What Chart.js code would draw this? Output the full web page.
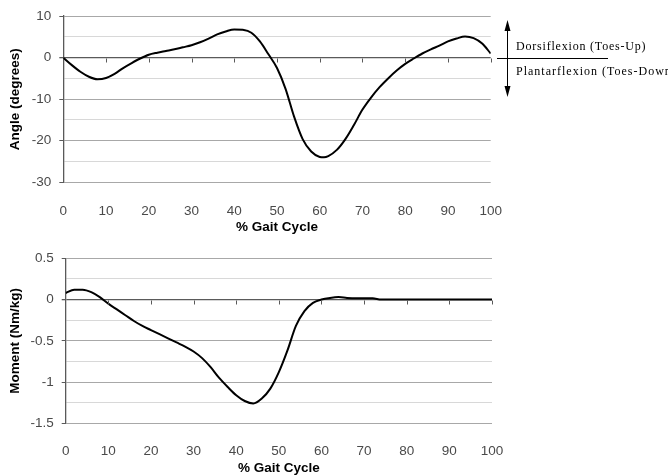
<!DOCTYPE html>
<html>
<head>
<meta charset="utf-8">
<script src="https://cdn.jsdelivr.net/npm/chart.js@4/dist/chart.umd.min.js"></script>
<style>
  html, body { margin: 0; padding: 0; background: #fff; }
  #wrap { position: relative; width: 668px; height: 476px; overflow: hidden; }
  canvas { position: absolute; left: 0; }
  #angle { top: 0; }
  #moment { top: 240px; }
</style>
</head>
<body>
<div id="wrap">
  <canvas id="angle" width="668" height="240"></canvas>
  <canvas id="moment" width="668" height="236"></canvas>
</div>
<script>
// Ankle sagittal-plane kinematics and kinetics over one gait cycle
const gaitPercent = [0, 2, 4, 6, 8, 10, 12, 14, 16, 18, 20, 22, 24, 26, 28, 30, 32, 34, 36, 38, 40,
  42, 44, 46, 48, 50, 52, 54, 56, 58, 60, 61, 62, 64, 66, 68, 70, 72, 74, 76, 78, 80, 82, 84, 86,
  88, 90, 92, 94, 96, 98, 100];
const ankleAngle = [0, -1.8, -3.4, -4.6, -5.2, -4.9, -3.9, -2.5, -1.3, -0.2, 0.7, 1.2, 1.6, 2.0, 2.5, 3.0,
  3.7, 4.6, 5.6, 6.3, 6.8, 6.7, 6.0, 3.9, 0.8, -2.5, -7.5, -14.2, -19.6, -22.6, -23.9, -24.0, -23.7,
  -22.2, -19.6, -16.2, -12.5, -9.6, -7.1, -5.0, -3.1, -1.5, -0.2, 1.0, 2.0, 2.9, 3.9, 4.6, 5.1, 4.7,
  3.4, 1.0];

const momentPercent = [0, 2, 4, 6, 8, 10, 12, 14, 16, 18, 20, 22, 24, 26, 28, 30, 32, 34, 36, 38, 40,
  42, 44, 46, 48, 50, 52, 54, 56, 58, 60, 62, 64, 66, 68, 70, 72, 74, 80, 90, 100];
const ankleMoment = [0.08, 0.12, 0.12, 0.09, 0.03, -0.05, -0.12, -0.19, -0.26, -0.32, -0.37, -0.42,
  -0.47, -0.52, -0.57, -0.63, -0.71, -0.82, -0.95, -1.06, -1.16, -1.23, -1.26, -1.2, -1.08, -0.88,
  -0.62, -0.32, -0.14, -0.04, 0.0, 0.02, 0.03, 0.02, 0.015, 0.015, 0.015, 0, 0, 0, 0];

const xTicks = [0, 10, 20, 30, 40, 50, 60, 70, 80, 90, 100];
const angleLabels = [10, 0, -10, -20, -30];
const momentLabels = [0.5, 0, -0.5, -1, -1.5];

const AXIS = '#5a5a5a';
const GRID_MAJOR = '#a8a8a8';
const GRID_MINOR = '#d8d8d8';
const TICK_FONT = { family: 'Liberation Sans, Arial, sans-serif', size: 13.5 };
const TITLE_FONT = { family: 'Liberation Sans, Arial, sans-serif', size: 13.5, weight: 'bold' };

function pairs(xs, ys) { return xs.map((x, i) => ({ x, y: ys[i] })); }
function isLabelled(v, labels) { return labels.some(l => Math.abs(l - v) < 1e-6); }

// Short tick marks hanging below the zero line
const zeroTicks = {
  id: 'zeroTicks',
  afterDatasetsDraw(chart) {
    const { ctx, scales: { x, y } } = chart;
    const y0 = Math.round(y.getPixelForValue(0)) + 0.5;
    ctx.save();
    ctx.strokeStyle = AXIS;
    ctx.lineWidth = 1;
    ctx.beginPath();
    xTicks.forEach(t => {
      if (t === 0) return;
      const px = Math.round(x.getPixelForValue(t)) + 0.5;
      ctx.moveTo(px, y0);
      ctx.lineTo(px, y0 + 4);
    });
    ctx.stroke();
    ctx.restore();
  }
};

// Direction key beside the angle plot
const directionKey = {
  id: 'directionKey',
  afterDraw(chart) {
    const { ctx, scales: { y } } = chart;
    const y0 = Math.round(y.getPixelForValue(0)) + 0.5;
    const ax = 507.5;
    ctx.save();
    ctx.strokeStyle = '#000';
    ctx.fillStyle = '#000';
    ctx.lineWidth = 1;
    ctx.beginPath();
    ctx.moveTo(497, y0); ctx.lineTo(608, y0);
    ctx.moveTo(ax, 28); ctx.lineTo(ax, 90);
    ctx.stroke();
    ctx.beginPath();
    ctx.moveTo(ax, 20); ctx.lineTo(ax - 3, 31); ctx.lineTo(ax + 3, 31); ctx.closePath();
    ctx.moveTo(ax, 97); ctx.lineTo(ax - 3, 86); ctx.lineTo(ax + 3, 86); ctx.closePath();
    ctx.fill();
    ctx.font = '12px "Liberation Serif", "Times New Roman", serif';
    ctx.textBaseline = 'middle';
    ctx.textAlign = 'left';
    ctx.letterSpacing = '0.8px';
    ctx.fillText('Dorsiflexion (Toes-Up)', 516, 46.5);
    ctx.letterSpacing = '1px';
    ctx.fillText('Plantarflexion (Toes-Down)', 516, 71.5);
    ctx.restore();
  }
};

function makeChart(canvasId, xs, ys, cfg) {
  return new Chart(document.getElementById(canvasId), {
    type: 'line',
    data: {
      datasets: [{
        data: pairs(xs, ys),
        borderColor: '#000',
        borderWidth: 2,
        pointRadius: 0,
        tension: 0.4,
        cubicInterpolationMode: 'monotone',
        fill: false
      }]
    },
    options: {
      responsive: false,
      animation: false,
      events: [],
      layout: { padding: cfg.padding },
      plugins: { legend: { display: false }, tooltip: { enabled: false } },
      scales: {
        x: {
          type: 'linear',
          min: 0, max: 100,
          afterBuildTicks: s => { s.ticks = xTicks.map(v => ({ value: v })); },
          afterFit: s => { s.height = cfg.xHeight; },
          grid: { display: false },
          border: { display: false },
          ticks: { color: '#4a4a4a', font: TICK_FONT, padding: cfg.xPad, maxRotation: 0 },
          title: { display: true, text: '% Gait Cycle', color: '#000', font: TITLE_FONT,
                   padding: { top: 0, bottom: cfg.xTitlePad } }
        },
        y: {
          min: cfg.min, max: cfg.max,
          ticks: {
            stepSize: cfg.step,
            color: '#4a4a4a', font: TICK_FONT, padding: 8,
            callback: v => isLabelled(v, cfg.labels) ? String(Math.round(v * 100) / 100 || 0) : ''
          },
          afterFit: s => { s.width = cfg.yWidth; },
          grid: {
            tickLength: 4,
            color: c => Math.abs(c.tick.value) < 1e-9 ? AXIS
              : (isLabelled(c.tick.value, cfg.labels) ? GRID_MAJOR : GRID_MINOR),
            lineWidth: c => Math.abs(c.tick.value) < 1e-9 ? 1.3 : 1,
            tickColor: c => isLabelled(c.tick.value, cfg.labels) ? AXIS : 'rgba(0,0,0,0)'
          },
          border: { display: true, color: AXIS, width: 1.3 },
          title: { display: true, text: cfg.yTitle, color: '#000', font: TITLE_FONT,
                   padding: { top: 7, bottom: 0 } }
        }
      }
    },
    plugins: cfg.plugins
  });
}

makeChart('angle', gaitPercent, ankleAngle, {
  padding: { left: 0, right: 177.3, top: 15.7, bottom: 0 },
  xHeight: 57.7, yWidth: 63.3, xPad: 12.5, xTitlePad: 5,
  min: -30, max: 10, step: 5, labels: angleLabels,
  yTitle: 'Angle (degrees)',
  plugins: [zeroTicks, directionKey]
});

makeChart('moment', momentPercent, ankleMoment, {
  padding: { left: 0, right: 176, top: 18.3, bottom: 0 },
  xHeight: 52.7, yWidth: 65.7, xPad: 12, xTitlePad: 0,
  min: -1.5, max: 0.5, step: 0.25, labels: momentLabels,
  yTitle: 'Moment (Nm/kg)',
  plugins: [zeroTicks]
});
</script>
</body>
</html>
